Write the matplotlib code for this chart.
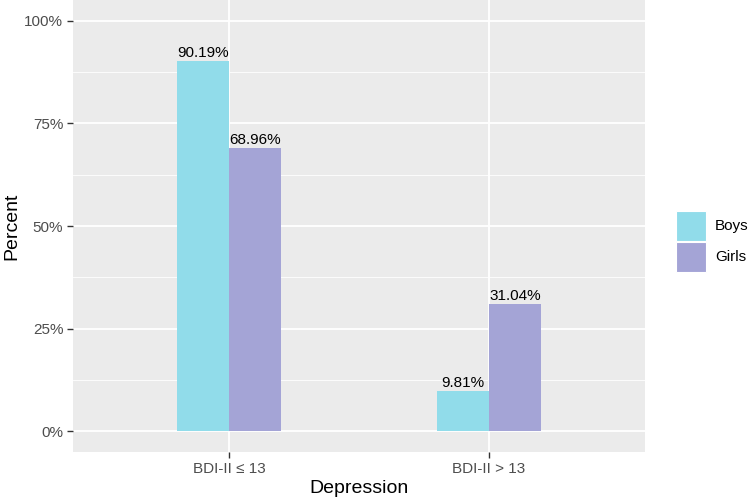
import numpy as np
from matplotlib import pyplot as plt
from matplotlib.patches import Rectangle

plt.rcParams['font.family'] = ['Liberation Sans', 'DejaVu Sans']

categories = ["BDI-II \u2264 13", "BDI-II > 13"]
groups = ["Boys", "Girls"]
boys = [90.19, 9.81]
girls = [68.96, 31.04]
colors = ["#91DCEA", "#A4A4D6"]

fig = plt.figure(figsize=(7.5, 5), dpi=100)
ax = fig.add_axes([73 / 750, 48 / 500, 572 / 750, 452 / 500])
ax.set_facecolor("#EBEBEB")

x = np.arange(1, len(categories) + 1)
w = 0.2
for i, (vals, col) in enumerate(zip([boys, girls], colors)):
    pos = x + (i - 0.5) * w
    ax.bar(pos, vals, width=w, color=col, zorder=3)
    for p, v in zip(pos, vals):
        ax.text(p, v + 0.2, f"{v:.2f}%", ha="center", va="bottom",
                fontsize=11, color="black", zorder=4)

ax.set_xlim(0.4, 2.6)
ax.set_ylim(-5, 105)
ax.set_xticks(x)
ax.set_xticklabels(categories)
yt = [0, 25, 50, 75, 100]
ax.set_yticks(yt)
ax.set_yticklabels([f"{t}%" for t in yt])
ax.set_yticks([12.5, 37.5, 62.5, 87.5], minor=True)

ax.grid(which="major", color="white", linewidth=1.3, zorder=0)
ax.grid(which="minor", axis="y", color="white", linewidth=0.6, zorder=0)
ax.set_axisbelow(True)
for s in ax.spines.values():
    s.set_visible(False)
ax.tick_params(which="major", length=4, width=1, color="#333333",
               labelsize=11, labelcolor="#4D4D4D", pad=3)
ax.tick_params(which="minor", length=0)

ax.set_xlabel("Depression", fontsize=14, labelpad=3)
ax.set_ylabel("Percent", fontsize=14, labelpad=3)

# legend drawn by hand, ggplot style
key_w, key_h = 30 / 750, 30 / 500
kx = 676 / 750
ky_top = 1 - 210 / 500
for i, (g, c) in enumerate(zip(groups, colors)):
    y0 = ky_top - (i + 1) * (key_h + 1 / 500)
    fig.patches.append(Rectangle((kx, y0), key_w, key_h, transform=fig.transFigure,
                                 facecolor=c, edgecolor="white", linewidth=0.8))
    fig.text(715 / 750, y0 + key_h / 2, g, fontsize=11, va="center", ha="left")

fig.savefig("out.png", dpi=100)
